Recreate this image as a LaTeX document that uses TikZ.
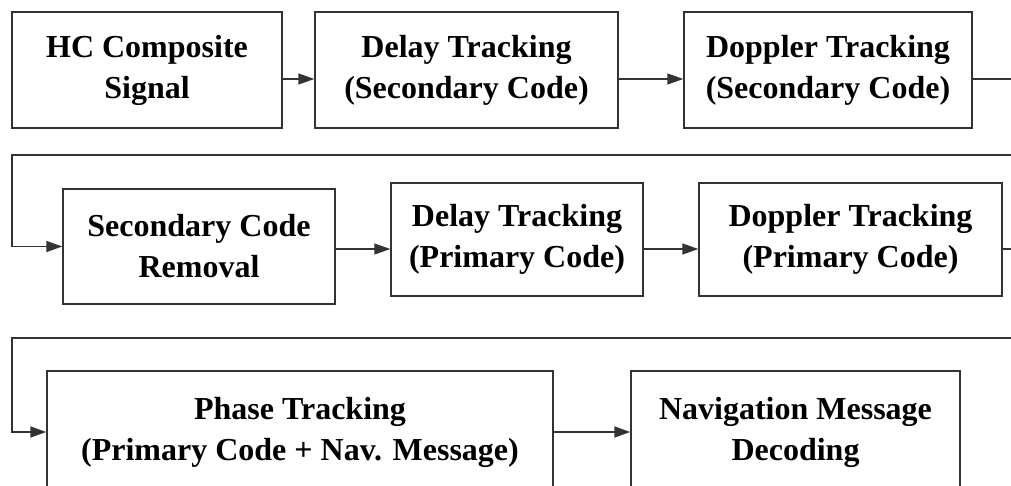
\documentclass[tikz,border=0pt]{standalone}
\usepackage{fontspec}
\setmainfont{Liberation Serif}
\usetikzlibrary{arrows.meta}
\begin{document}
\begin{tikzpicture}[x=1pt,y=-1pt,
  box/.style={draw=black!80,line width=1.4pt,fill=white,inner sep=0pt,align=center,
    font=\fontsize{32}{41}\selectfont\bfseries},
  conn/.style={draw=black!80,line width=1.4pt},
  arr/.style={conn,-{Triangle[length=16pt,width=11pt]}}]
\useasboundingbox (0,0) rectangle (1011,486);
\clip (0,0) rectangle (1011,486);
\fill[white] (0,0) rectangle (1011,486);
% row 1
\node[box,minimum width=270pt,minimum height=116pt] (b1) at (147,70) {HC Composite\\Signal};
\node[box,minimum width=303pt,minimum height=116pt] (b2) at (466.5,70) {Delay Tracking\\(Secondary Code)};
\node[box,minimum width=288pt,minimum height=116pt] (b3) at (828,70) {Doppler Tracking\\(Secondary Code)};
% row 2
\node[box,minimum width=272pt,minimum height=115pt] (b4) at (199,246.5) {Secondary Code\\Removal};
\node[box,minimum width=252pt,minimum height=113pt] (b5) at (517,239.5) {Delay Tracking\\(Primary Code)};
\node[box,minimum width=303pt,minimum height=113pt] (b6) at (850.5,239.5) {Doppler Tracking\\(Primary Code)};
% row 3
\node[box,minimum width=506pt,minimum height=122pt] (b7) at (300,432) {Phase Tracking\\(Primary Code + Nav. Message)};
\node[box,minimum width=329pt,minimum height=122pt] (b8) at (795.5,432) {Navigation Message\\Decoding};
% wrap coordinates
\coordinate (r1) at (1030,155);
\coordinate (l1) at (12,155);
\coordinate (r2) at (1030,338);
\coordinate (l2) at (12,338);
% connectors
\draw[arr] ([yshift=-9pt]b1.east) -- ([yshift=-9pt]b2.west);
\draw[arr] ([yshift=-9pt]b2.east) -- ([yshift=-9pt]b3.west);
\draw[arr] ([yshift=-9pt]b3.east) -| (r1) -- (l1) |- (b4.west);
\draw[arr] ([yshift=-2.5pt]b4.east) -- ([yshift=-9.5pt]b5.west);
\draw[arr] ([yshift=-9.5pt]b5.east) -- ([yshift=-9.5pt]b6.west);
\draw[arr] ([yshift=-9.5pt]b6.east) -| (r2) -- (l2) |- (b7.west);
\draw[arr] (b7.east) -- (b8.west);
\end{tikzpicture}
\end{document}
